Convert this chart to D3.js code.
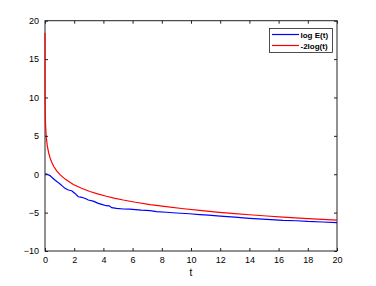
<!DOCTYPE html>
<html>
<head>
<meta charset="utf-8">
<script src="https://cdn.jsdelivr.net/npm/d3@7"></script>
<style>
  body { margin: 0; background: #fff; }
  text { font-family: "Liberation Sans", Arial, sans-serif; }
</style>
</head>
<body>
<script>
// values
var redT = [0, 0.001, 0.005, 0.01, 0.02, 0.04, 0.07, 0.1, 0.16, 0.25, 0.35, 0.46, 0.6, 0.8, 1.03,
            1.4, 1.94, 2.5, 3.08, 3.6, 4.2, 4.8, 5.36, 6.2, 7.2, 8.3, 9.5, 10.6, 11.75, 13, 14, 15.2, 16.3, 18, 20];
var redV = [18.4, 13.8, 10.6, 9.2, 7.8, 6.4, 5.3, 4.6, 3.65, 2.8, 2.1, 1.55, 1.0, 0.45, -0.06,
            -0.67, -1.33, -1.83, -2.25, -2.56, -2.87, -3.14, -3.36, -3.65, -3.95, -4.23, -4.5, -4.72, -4.93, -5.13, -5.28, -5.44, -5.58, -5.78, -5.99];

var blueT = [0, 0.08, 0.15, 0.34, 0.5, 0.68, 0.85, 1.03, 1.2, 1.37, 1.6, 1.83, 2.05, 2.28, 2.45, 2.62, 2.8, 2.96, 3.3, 3.65,
             4.0, 4.2, 4.4, 4.57, 4.9, 5.36, 5.8, 6.2, 6.6, 7.2, 7.64, 8.3, 9.0, 9.9, 10.6, 11.2, 12, 13, 14, 15.2, 16.3, 17.2, 18, 19, 20];
var blueV = [0, 0.05, 0.0, -0.18, -0.45, -0.76, -1.0, -1.28, -1.55, -1.84, -2.06, -2.15, -2.5, -2.93, -2.98, -3.06, -3.2, -3.36, -3.5, -3.8,
             -4.0, -4.1, -4.12, -4.36, -4.44, -4.53, -4.55, -4.6, -4.68, -4.75, -4.88, -4.95, -5.05, -5.15, -5.25, -5.33, -5.45, -5.6, -5.75, -5.88, -6.0, -6.06, -6.15, -6.22, -6.3];

var xTicks = [0, 2, 4, 6, 8, 10, 12, 14, 16, 18, 20];
var yTicks = [-10, -5, 0, 5, 10, 15, 20];
var legendNames = ["log E(t)", "-2log(t)"];
var colors = ["#0000ff", "#ff0000"];

var width = 376, height = 286;
var margin = {left: 45, right: 39, top: 20.7, bottom: 35};

var svg = d3.select("body").append("svg")
    .attr("width", width)
    .attr("height", height);

var x = d3.scaleLinear().domain([0, 20]).range([margin.left, width - margin.right]);
var y = d3.scaleLinear().domain([-10, 20]).range([height - margin.bottom, margin.top]);

var line = d3.line()
    .x(function(d) { return x(d[0]); })
    .y(function(d) { return y(d[1]); });

// frame
svg.append("rect")
    .attr("x", x(0)).attr("y", y(20))
    .attr("width", x(20) - x(0)).attr("height", y(-10) - y(20))
    .attr("fill", "none").attr("stroke", "#222").attr("stroke-width", 1);

var blueData = d3.zip(blueT, blueV);
var redData = d3.zip(redT, redV);

svg.append("path").datum(blueData)
    .attr("d", line).attr("fill", "none")
    .attr("stroke", colors[0]).attr("stroke-width", 1.2);

svg.append("path").datum(redData)
    .attr("d", line).attr("fill", "none")
    .attr("stroke", colors[1]).attr("stroke-width", 1.2);

// axes, ticks pointing inward
var gx = svg.append("g")
    .attr("transform", "translate(0," + y(-10) + ")")
    .call(d3.axisBottom(x).tickValues(xTicks).tickSizeInner(-3).tickSizeOuter(0).tickPadding(6));
var gxTop = svg.append("g")
    .attr("transform", "translate(0," + y(20) + ")")
    .call(d3.axisTop(x).tickValues(xTicks).tickSizeInner(-3).tickSizeOuter(0).tickFormat(""));
var gy = svg.append("g")
    .attr("transform", "translate(" + x(0) + ",0)")
    .call(d3.axisLeft(y).tickValues(yTicks).tickSizeInner(-3).tickSizeOuter(0).tickPadding(6));
var gyRight = svg.append("g")
    .attr("transform", "translate(" + x(20) + ",0)")
    .call(d3.axisRight(y).tickValues(yTicks).tickSizeInner(-3).tickSizeOuter(0).tickFormat(""));

[gx, gxTop, gy, gyRight].forEach(function(g) {
    g.select(".domain").remove();
    g.selectAll("line").attr("stroke", "#222");
    g.selectAll("text").attr("font-size", 9).attr("fill", "#000")
        .style("font-family", "Liberation Sans, Arial, sans-serif");
});

svg.append("text")
    .attr("x", x(10)).attr("y", 276)
    .attr("text-anchor", "middle")
    .attr("font-size", 10).attr("fill", "#000")
    .text("t");

// legend
var lg = svg.append("g");
lg.append("rect")
    .attr("x", 269.5).attr("y", 28.5).attr("width", 63).attr("height", 24)
    .attr("fill", "#fff").attr("stroke", "#222").attr("stroke-width", 0.8);

legendNames.forEach(function(name, i) {
    var ly = 34.5 + i * 11;
    lg.append("line")
        .attr("x1", 272).attr("x2", 299)
        .attr("y1", ly).attr("y2", ly)
        .attr("stroke", colors[i]).attr("stroke-width", 1.2);
    lg.append("text")
        .attr("x", 300.5).attr("y", ly + 3)
        .attr("font-size", 8).attr("font-weight", 600).attr("fill", "#000")
        .text(name);
});
</script>
</body>
</html>
